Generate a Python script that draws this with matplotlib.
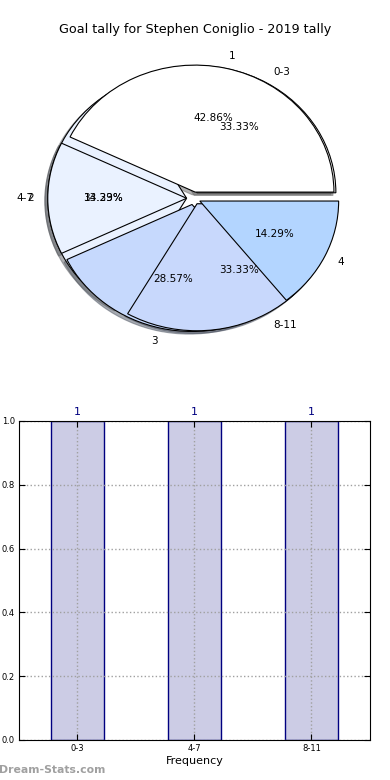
import matplotlib
matplotlib.use("Agg")
import matplotlib.pyplot as plt

goal_labels = ["1", "2", "3", "4"]
goal_counts = [3, 1, 2, 1]
range_labels = ["0-3", "4-7", "8-11"]
range_counts = [1, 1, 1]
y_ticks = [0.0, 0.2, 0.4, 0.6, 0.8, 1.0]

goal_colors = ["#ffffff", "#eaf2ff", "#c6d9fd", "#b3d5ff"]
range_colors = ["#ffffff", "#eaf2ff", "#c8d8fc"]


def make_chart(out="out.png"):
    fig = plt.figure(figsize=(3.9, 7.8), dpi=100)

    # pie: two overlaid pies, goals per game and frequency ranges
    ax = fig.add_axes([0.0513, 0.5423, 0.89, 0.407])
    wedge_kw = dict(edgecolor="black", linewidth=0.8)
    text_kw = dict(fontsize=7.5)
    shadow_kw = dict(ox=-0.015, oy=-0.015, shade=0.6)
    w1, _, _ = ax.pie(goal_counts, labels=goal_labels, colors=goal_colors,
                      autopct="%1.2f%%", explode=[0.05] * len(goal_counts),
                      shadow=shadow_kw, wedgeprops=wedge_kw, textprops=text_kw)
    w2, _, _ = ax.pie(range_counts, labels=range_labels, colors=range_colors,
                      autopct="%1.2f%%", explode=[0.05] * len(range_counts),
                      shadow=shadow_kw, wedgeprops=wedge_kw, textprops=text_kw)
    for w in w2[:2]:
        w.set_zorder(1.0)
    for w in w1[:3]:
        w.set_zorder(1.1)
    w2[2].set_zorder(1.2)
    w1[3].set_zorder(1.3)
    ax.set_aspect("auto")
    ax.set_xlim(-1.25, 1.25)
    ax.set_ylim(-1.25, 1.25)

    fig.text(0.5, 1 - 30 / 780, "Goal tally for Stephen Coniglio - 2019 tally",
             ha="center", va="center", fontsize=9.2)

    # bar chart of frequency ranges
    ax2 = fig.add_axes([0.0487, 0.0513, 0.9, 0.409])
    x = list(range(len(range_labels)))
    ax2.bar(x, range_counts, width=0.45, color=(0, 0, 0.5, 0.2),
            edgecolor="navy", linewidth=1)
    for xi, v in zip(x, range_counts):
        ax2.annotate(str(v), (xi, v), xytext=(0, 3), textcoords="offset points",
                     ha="center", va="bottom", color="navy", fontsize=8)
    ax2.set_xlim(-0.5, 2.5)
    ax2.set_ylim(0, 1.0)
    ax2.set_xticks(x)
    ax2.set_xticklabels(range_labels)
    ax2.set_yticks(y_ticks)
    ax2.set_yticklabels(["%.1f" % t for t in y_ticks])
    ax2.tick_params(direction="in", top=True, right=True, labelsize=6, length=4,
                    pad=3)
    ax2.grid(True, linestyle=":", color="#a0a0a0", linewidth=1)
    ax2.set_xlabel("Frequency", fontsize=8, labelpad=2)

    fig.text(-0.003, 1 - 770 / 780, "Dream-Stats.com", ha="left", va="center",
             fontsize=7.8, color="#a0a0a0", fontweight="bold")

    fig.savefig(out, dpi=100)


if __name__ == "__main__":
    make_chart()
